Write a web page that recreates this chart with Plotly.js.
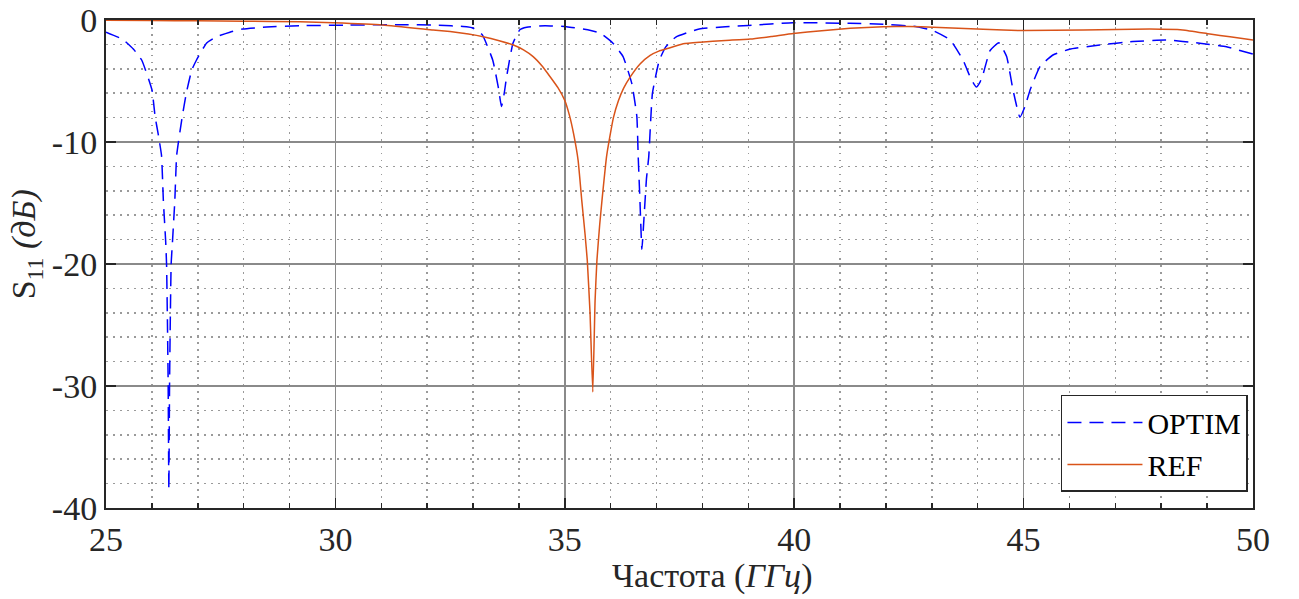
<!DOCTYPE html>
<html>
<head>
<meta charset="utf-8">
<script src="https://cdn.plot.ly/plotly-3.0.1.min.js"></script>
<style>
  html, body { margin: 0; padding: 0; background: #ffffff; }
  #chart { width: 1299px; height: 599px; }
</style>
</head>
<body>
<div id="chart"></div>
<script>
// Frequency sweep of the optimised structure (GHz, dB)
const optimFreq = [
  25.0, 25.37, 25.6, 25.78, 26.0, 26.07, 26.14, 26.21, 26.25, 26.30, 26.32, 26.34,
  26.355, 26.37, 26.385, 26.40, 26.42, 26.45, 26.50, 26.54, 26.65, 26.75, 26.87, 26.97,
  27.19, 27.41, 27.7, 27.98, 28.5, 29.23, 30.3, 31.4, 32.2, 32.86, 33.0, 33.2,
  33.43, 33.55, 33.62, 33.68, 33.73, 33.87, 34.02, 34.17, 34.57, 35.04, 35.5, 35.77,
  36.05, 36.27, 36.46, 36.57, 36.60, 36.64, 36.68, 36.73, 36.78, 36.83, 36.91, 37.06,
  37.2, 37.42, 37.93, 38.5, 39.0, 39.97, 41.2, 41.94, 42.67, 43.03, 43.4, 43.68,
  43.85, 43.97, 44.05, 44.12, 44.27, 44.46, 44.63, 44.77, 44.92, 45.03, 45.14, 45.36,
  45.64, 46.0, 46.66, 47.38, 48.1, 48.84, 49.42, 50.0
];
const optimS11 = [
  -1.0, -1.6, -2.4, -3.3, -5.7, -7.9, -9.4, -11.1, -14.8, -18.1, -20.0, -25.0,
  -30.0, -38.5, -30.0, -25.0, -20.0, -18.1, -14.8, -11.1, -8.2, -6.0, -4.1, -3.3,
  -1.9, -1.37, -1.0, -0.74, -0.58, -0.47, -0.42, -0.38, -0.42, -0.55, -0.66, -1.2,
  -3.3, -5.5, -7.1, -6.0, -4.7, -1.9, -0.8, -0.6, -0.47, -0.55, -0.8, -1.07,
  -1.9, -3.0, -5.2, -7.9, -11.2, -15.0, -18.8, -16.0, -13.0, -11.2, -6.0, -3.3,
  -2.2, -1.4, -0.74, -0.55, -0.45, -0.22, -0.27, -0.35, -0.55, -0.88, -1.64, -3.28,
  -4.8, -5.5, -5.1, -4.4, -2.5, -1.87, -3.0, -5.75, -7.98, -7.1, -5.75, -3.8,
  -2.87, -2.4, -2.05, -1.77, -1.64, -1.9, -2.2, -2.8
];

// Frequency sweep of the reference structure (GHz, dB)
const refFreq = [
  25.0, 26.0, 27.0, 28.0, 29.23, 29.95, 31.04, 32.13, 32.5, 32.9, 33.22, 33.59,
  33.88, 34.1, 34.31, 34.5, 34.68, 34.85, 35.0, 35.10, 35.19, 35.29, 35.37, 35.44,
  35.49, 35.55, 35.61, 35.66, 35.70, 35.76, 35.81, 35.91, 35.98, 36.06, 36.17, 36.28,
  36.42, 36.64, 36.86, 37.05, 37.22, 37.58, 37.95, 38.5, 39.04, 39.5, 39.98, 40.6,
  41.22, 41.94, 42.5, 43.03, 44.12, 45.0, 46.3, 47.75, 48.47, 49.06, 49.5, 50.0
];
const refS11 = [
  -0.02, -0.04, -0.07, -0.1, -0.14, -0.22, -0.41, -0.82, -0.95, -1.15, -1.37, -1.72,
  -2.05, -2.45, -3.0, -3.75, -4.65, -5.55, -6.6, -7.8, -9.3, -11.5, -14.8, -17.5,
  -19.7, -24.0, -30.5, -23.0, -19.7, -16.8, -14.8, -11.2, -9.6, -8.0, -6.6, -5.6,
  -4.7, -3.6, -2.9, -2.55, -2.36, -1.95, -1.82, -1.68, -1.56, -1.35, -1.1, -0.88,
  -0.68, -0.55, -0.53, -0.6, -0.76, -0.87, -0.82, -0.74, -0.82, -1.15, -1.38, -1.64
];

// Axis ticks
const freqTicks = [25, 30, 35, 40, 45, 50];
const freqTickText = ['25', '30', '35', '40', '45', '50'];
const s11Ticks = [-40, -30, -20, -10, 0];
const s11TickText = ['-40', '-30', '-20', '-10', '0'];

const serif = 'Liberation Serif';
const ink = '#262626';

const traces = [
  {
    x: optimFreq, y: optimS11, name: 'OPTIM', type: 'scatter', mode: 'lines',
    line: { color: '#0000ff', width: 1.5, dash: '14px,8px', shape: 'spline', smoothing: 0.4 }
  },
  {
    x: refFreq, y: refS11, name: 'REF', type: 'scatter', mode: 'lines',
    line: { color: '#d95319', width: 1.5, shape: 'spline', smoothing: 0.4 }
  }
];

const axisCommon = {
  showline: true, linecolor: ink, linewidth: 2, mirror: 'allticks',
  ticks: 'inside', ticklen: 10, tickwidth: 1.5, tickcolor: ink,
  showgrid: true, gridcolor: '#8a8a8a', gridwidth: 1.5,
  zeroline: false,
  tickfont: { family: serif, size: 34, color: ink },
  fixedrange: true
};

const layout = {
  width: 1299, height: 599,
  margin: { l: 106, r: 46, t: 20, b: 91 },
  paper_bgcolor: '#ffffff', plot_bgcolor: '#ffffff',
  font: { family: serif, color: ink },
  showlegend: true,
  legend: {
    x: 0.9956, y: 0.033, xanchor: 'right', yanchor: 'bottom',
    bgcolor: '#ffffff', bordercolor: ink, borderwidth: 1.5,
    font: { family: serif, size: 30, color: '#000000' },
    tracegroupgap: 0, itemwidth: 75
  },
  xaxis: Object.assign({}, axisCommon, {
    range: [25, 50], tickmode: 'array', tickvals: freqTicks, ticktext: freqTickText,
    minor: { dtick: 1, tick0: 25, showgrid: true, gridcolor: '#9a9a9a', gridwidth: 1.5,
             griddash: '1.5px,5.5px', ticks: 'inside', ticklen: 5, tickcolor: ink }
  }),
  yaxis: Object.assign({}, axisCommon, {
    range: [-40, 0], tickmode: 'array', tickvals: s11Ticks, ticktext: s11TickText,
    minor: { dtick: 2, tick0: 0, showgrid: true, gridcolor: '#9a9a9a', gridwidth: 1.5,
             griddash: '1.5px,5.5px' }
  }),
  annotations: [
    {
      xref: 'paper', yref: 'paper', x: 0.528, y: -0.14, xanchor: 'center', yanchor: 'middle',
      text: 'Частота (<i>ГГц</i>)', showarrow: false,
      font: { family: serif, size: 34, color: ink }
    },
    {
      xref: 'paper', yref: 'paper', x: -0.069, y: 0.54, xanchor: 'center', yanchor: 'middle',
      textangle: -90, text: 'S<sub>11</sub> <i>(дБ)</i>', showarrow: false,
      font: { family: serif, size: 34, color: ink }
    }
  ]
};

Plotly.newPlot('chart', traces, layout, { staticPlot: true, displayModeBar: false });
</script>
</body>
</html>
